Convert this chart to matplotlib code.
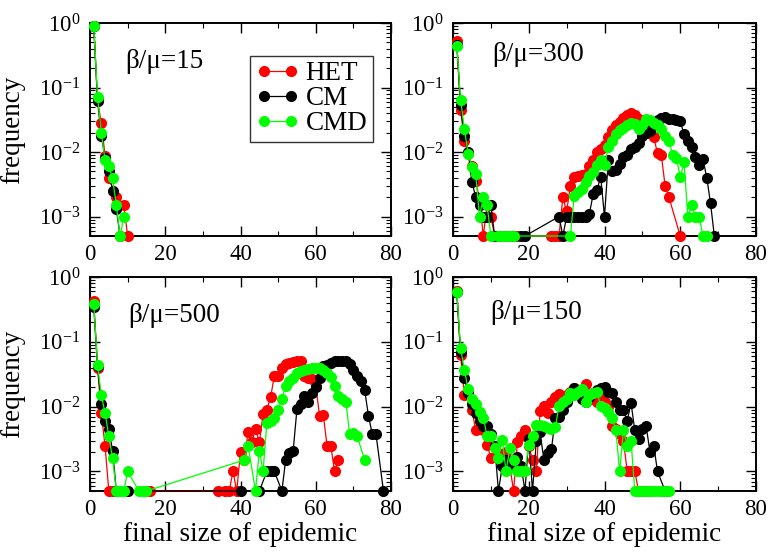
import numpy as np
import matplotlib
matplotlib.use("Agg")
import matplotlib.pyplot as plt
from matplotlib.ticker import MultipleLocator, LogLocator, LogFormatterMathtext, NullFormatter

plt.rcParams['font.family'] = ['Liberation Serif', 'DejaVu Serif']
plt.rcParams['mathtext.fontset'] = 'custom'
plt.rcParams['mathtext.rm'] = 'Liberation Serif'
plt.rcParams['mathtext.it'] = 'Liberation Serif:italic'
plt.rcParams['mathtext.bf'] = 'Liberation Serif:bold'

FLOOR = 5e-4  # empty bins are drawn on the lower frame

# ---- beta/mu = 15 ----
size_het_15 = [1, 2, 3, 4, 5, 7, 9, 10]
freq_het_15 = [0.90, 0.063, 0.028, 0.0088, 0.0040, 0.0020, 0.0015, 0]
size_cm_15 = [1, 2, 3, 4, 5, 6, 7, 8]
freq_cm_15 = [0.90, 0.062, 0.018, 0.0080, 0.0050, 0.0025, 0.0013, 0]
size_cmd_15 = [1, 2, 3, 4, 5, 6, 7, 8, 9]
freq_cmd_15 = [0.90, 0.071, 0.020, 0.0076, 0.0060, 0.0039, 0.0015, 0, 0.00098]

# ---- beta/mu = 300 ----
size_het_300 = [1, 2, 3, 4, 5, 6, 7, 8, 9, 10, 11, 13, 14, 15, 16, 17,
                26, 27, 28, 29, 30, 31, 32, 33, 34, 35, 36, 37, 38, 39, 40, 41,
                42, 43, 44, 45, 46, 47, 48, 49, 50, 51, 52, 53, 54, 55, 56, 57, 60]
freq_het_300 = [0.52, 0.045, 0.015, 0.0095, 0.0060, 0.0036, 0.0018, 0, 0.0015, 0.0010, 0, 0, 0, 0, 0, 0,
                0, 0, 0, 0.0020, 0.0012, 0.0030, 0.0041, 0.0042, 0.0044, 0.0045, 0.0060, 0.0074, 0.010, 0.011, 0.013, 0.017,
                0.022, 0.026, 0.029, 0.034, 0.038, 0.040, 0.038, 0.032, 0.028, 0.023, 0.020, 0.017, 0.0095, 0.0090, 0.0030, 0.0020, 0]
size_cm_300 = [1, 2, 3, 4, 5, 6, 7, 8, 9, 10, 11, 12, 14, 16, 18, 19,
               28, 29, 30, 31, 32, 33, 34, 35, 36, 37, 38, 39, 40, 41, 42, 43, 44, 45, 46, 47, 48,
               49, 50, 51, 52, 53, 54, 55, 56, 57, 58, 59, 60, 61, 62, 63, 64, 65, 66, 67, 68, 69]
freq_cm_300 = [0.46, 0.053, 0.018, 0.010, 0.0034, 0.0020, 0.0015, 0.0010, 0.0010, 0.0015, 0, 0, 0, 0, 0, 0,
               0.0010, 0, 0.0010, 0.0010, 0.0010, 0.0010, 0.0010, 0.0010, 0.0011, 0.0022, 0.0026, 0.0041, 0.0010, 0.0074, 0.0050, 0.0052, 0.0066, 0.0083, 0.0090, 0.011, 0.012,
               0.014, 0.018, 0.020, 0.021, 0.026, 0.031, 0.034, 0.035, 0.033, 0.032, 0.031, 0.030, 0.019, 0.015, 0.012, 0.0083, 0.0062, 0.0078, 0.0040, 0.0016, 0]
size_cmd_300 = [1, 2, 3, 4, 5, 6, 7, 8, 9, 10, 12, 13, 14, 15, 16,
                31, 32, 33, 34, 35, 36, 37, 38, 39, 40, 41, 42, 43, 44, 45, 46, 47, 48, 49,
                50, 51, 52, 53, 54, 55, 56, 57, 58, 59, 60, 61, 62, 63, 64, 65, 66, 67]
freq_cmd_300 = [0.44, 0.065, 0.023, 0.0094, 0.0059, 0.0045, 0.0010, 0.0020, 0.0015, 0, 0, 0, 0, 0, 0,
                0, 0.0021, 0.0024, 0.0027, 0.0034, 0.0042, 0.0049, 0.0062, 0.0075, 0.0062, 0.012, 0.015, 0.019, 0.022, 0.024, 0.026, 0.028, 0.027, 0.023,
                0.026, 0.033, 0.031, 0.028, 0.026, 0.023, 0.018, 0.015, 0.0089, 0.0081, 0.0041, 0.0069, 0.0010, 0.0015, 0.0010, 0.00098, 0, 0]

# ---- beta/mu = 500 ----
size_het_500 = [1, 2, 3, 4, 5, 6, 15, 16,
                34, 36, 37, 38, 39, 40, 41, 42, 43, 44, 45, 46, 47, 48, 49, 50,
                51, 52, 53, 54, 55, 56, 57, 58, 59, 60, 61, 62, 63, 64, 65, 66]
freq_het_500 = [0.42, 0.040, 0.0080, 0.0025, 0, 0, 0, 0,
                0, 0, 0, 0.0010, 0, 0.0020, 0.0015, 0.0040, 0.0028, 0.0045, 0.0028, 0.0076, 0.0090, 0.014, 0.030, 0.030,
                0.040, 0.045, 0.047, 0.049, 0.050, 0.050, 0.030, 0.028, 0.027, 0.021, 0.0073, 0.0075, 0.0025, 0.0025, 0.0010, 0.0015]
size_cm_500 = [1, 2, 3, 4, 5, 6, 7, 10,
               40, 45, 47, 48, 49, 51, 52, 53, 54, 55, 56, 57, 58, 59, 60,
               61, 62, 63, 64, 65, 66, 67, 68, 69, 70, 71, 72, 73, 74, 75, 76, 78]
freq_cm_500 = [0.35, 0.042, 0.011, 0.0060, 0.0045, 0.0021, 0, 0,
               0, 0, 0.0010, 0.0010, 0.0010, 0, 0.0015, 0.0019, 0.0021, 0.0091, 0.011, 0.0145, 0.012, 0.016, 0.020,
               0.0275, 0.042, 0.044, 0.047, 0.050, 0.050, 0.050, 0.050, 0.045, 0.037, 0.030, 0.025, 0.018, 0.0073, 0.0038, 0.0038, 0]
size_cmd_500 = [1, 2, 3, 4, 5, 6, 7, 8, 9, 10, 13, 14, 15,
                41, 42, 44, 45, 46, 47, 48, 49, 50, 51, 52, 53, 54, 55, 56, 57,
                58, 59, 60, 61, 62, 63, 64, 65, 66, 67, 68, 69, 70, 71, 73]
freq_cmd_500 = [0.38, 0.044, 0.015, 0.0081, 0.0035, 0.0016, 0, 0, 0, 0.0010, 0, 0, 0,
                0.0015, 0.0025, 0, 0.0021, 0.0010, 0.0056, 0.0060, 0.0067, 0.0090, 0.013, 0.021, 0.025, 0.028, 0.033, 0.035, 0.037,
                0.038, 0.039, 0.039, 0.039, 0.037, 0.033, 0.029, 0.021, 0.0145, 0.013, 0.012, 0.0038, 0.0039, 0.0035, 0.0015]

# ---- beta/mu = 150 ----
size_het_150 = list(range(1, 53))
freq_het_150 = [0.60, 0.062, 0.015, 0.0155, 0.0090, 0.0043, 0.0060, 0.0043, 0.0026, 0.0016,
                0.0025, 0.0019, 0.0015, 0.0020, 0.0012, 0, 0.0028, 0.0035, 0.0043, 0.0025,
                0.0015, 0.0010, 0.0085, 0.0102, 0.0080, 0.012, 0.014, 0.0155, 0.013, 0.015,
                0.017, 0.0195, 0.018, 0.016, 0.022, 0.015, 0.013, 0.012, 0.013, 0.012,
                0.010, 0.0050, 0.0045, 0.0038, 0.0030, 0.0010, 0.0010, 0.0010, 0, 0,
                0, 0]
size_cm_150 = list(range(1, 55)) + [56]
freq_cm_150 = [0.58, 0.070, 0.028, 0.016, 0.011, 0.0080, 0.0060, 0.0050, 0.0050, 0.0038,
               0.0025, 0, 0.0012, 0.0015, 0.0013, 0.0015, 0.0017, 0.0012, 0, 0.0032,
               0, 0.0030, 0.0040, 0.0015, 0.0019, 0.0022, 0.0067, 0.0070, 0.0090, 0.012,
               0.015, 0.0195, 0.017, 0.013, 0.012, 0.014, 0.016, 0.018, 0.0195, 0.020,
               0.017, 0.016, 0.012, 0.0090, 0.0090, 0.0060, 0.0115, 0.0043, 0.0032, 0.0045,
               0.0050, 0.0020, 0.0025, 0.0010, 0]
size_cmd_150 = list(range(1, 58))
freq_cmd_150 = [0.58, 0.080, 0.037, 0.0185, 0.013, 0.011, 0.0082, 0.0068, 0.0035, 0.0035,
                0.0023, 0.0016, 0.0031, 0.0010, 0.0023, 0.0015, 0.0010, 0.0010, 0.0010, 0.0026,
                0.0035, 0.0053, 0.0053, 0.0050, 0.0047, 0.0045, 0.0048, 0.0102, 0.012, 0.013,
                0.016, 0.015, 0.017, 0.0185, 0.012, 0.015, 0.016, 0.017, 0.0102, 0.0095,
                0.0082, 0.0068, 0.0043, 0.0010, 0.0043, 0.0025, 0.0030, 0, 0, 0,
                0, 0, 0, 0, 0, 0, 0]

ratios = ["15", "300", "500", "150"]
model_names = ["HET", "CM", "CMD"]
model_colors = ["#ff0000", "#000000", "#00ff00"]

panel_series = [
    [(size_het_15, freq_het_15), (size_cm_15, freq_cm_15), (size_cmd_15, freq_cmd_15)],
    [(size_het_300, freq_het_300), (size_cm_300, freq_cm_300), (size_cmd_300, freq_cmd_300)],
    [(size_het_500, freq_het_500), (size_cm_500, freq_cm_500), (size_cmd_500, freq_cmd_500)],
    [(size_het_150, freq_het_150), (size_cm_150, freq_cm_150), (size_cmd_150, freq_cmd_150)],
]

W, H = 771, 552
fig = plt.figure(figsize=(W / 100, H / 100), dpi=100)

# panel frames in pixels: left, top, right, bottom
frames = [(90, 23, 391, 236), (453, 23, 756, 236),
          (90, 277, 391, 491), (453, 277, 756, 491)]
text_pos = [(0.116, 0.82), (0.128, 0.85), (0.126, 0.82), (0.122, 0.835)]

for i, (l, t, r, b) in enumerate(frames):
    ax = fig.add_axes([l / W, 1 - b / H, (r - l) / W, (b - t) / H])
    ax.set_yscale('log')
    ax.set_xlim(0, 80)
    ax.set_ylim(FLOOR, 1)
    lines = []
    for (sx, fy), name, col in zip(panel_series[i], model_names, model_colors):
        fy = np.asarray(fy, dtype=float)
        fy = np.where(fy > 0, fy, FLOOR)
        ln, = ax.plot(sx, fy, '-o', color=col, lw=0.9, ms=8.0, mec=col, mew=0,
                      clip_on=False, zorder=3, label=name)
        lines.append(ln)

    ax.xaxis.set_major_locator(MultipleLocator(20))
    ax.xaxis.set_minor_locator(MultipleLocator(10))
    ax.yaxis.set_major_locator(LogLocator(base=10, numticks=10))
    ax.yaxis.set_minor_locator(LogLocator(base=10, subs=np.arange(2, 10), numticks=10))
    ax.yaxis.set_major_formatter(LogFormatterMathtext())
    ax.yaxis.set_minor_formatter(NullFormatter())
    ax.tick_params(which='both', direction='in', top=True, right=True, labelsize=16.5)
    ax.tick_params(which='major', length=7, width=1.0)
    ax.tick_params(which='minor', length=3.5, width=0.8)
    ax.tick_params(axis='x', pad=6)
    ax.tick_params(axis='y', pad=7)
    for sp in ax.spines.values():
        sp.set_linewidth(1.4)

    ax.text(text_pos[i][0], text_pos[i][1], "β/μ=" + ratios[i], transform=ax.transAxes,
            ha='left', va='center', fontsize=19.5)

    if i in (0, 2):
        ax.set_ylabel("frequency", fontsize=19.5)
        ax.yaxis.set_label_coords(-0.215, 0.5)
    if i in (2, 3):
        ax.set_xlabel("final size of epidemic", fontsize=19.5)
        ax.xaxis.set_label_coords(0.5, -0.145)
    if i == 0:
        leg = ax.legend(handles=lines, loc='upper left', bbox_to_anchor=(0.532, 0.845),
                        numpoints=2, handlelength=1.6, handletextpad=0.25,
                        labelspacing=0.0, borderpad=0.2, borderaxespad=0.0,
                        fontsize=19.5, frameon=True, fancybox=False)
        leg.get_frame().set_edgecolor('black')
        leg.get_frame().set_linewidth(1.0)

fig.savefig("out.png", dpi=100)
